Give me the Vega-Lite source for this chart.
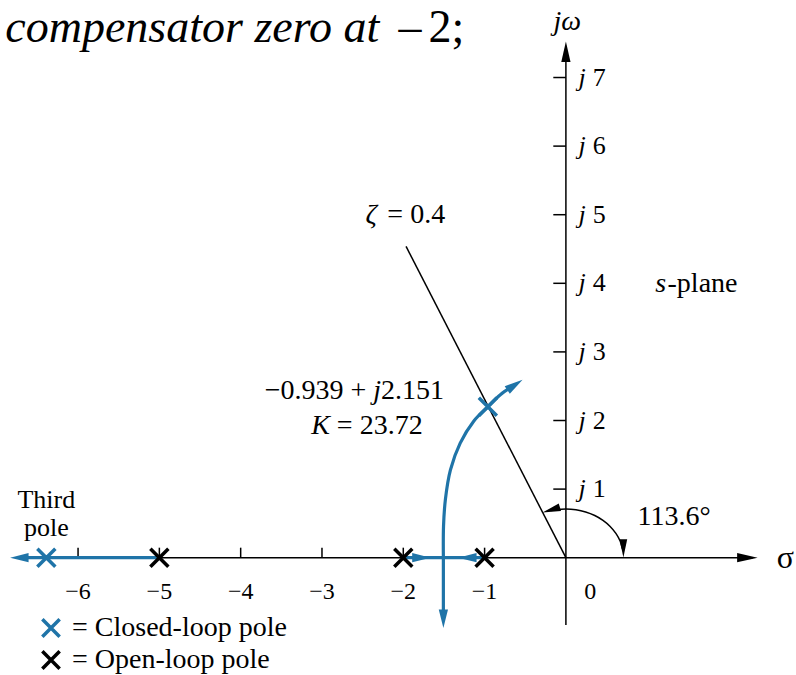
{
  "$schema": "https://vega.github.io/schema/vega-lite/v6.json",
  "width": 796,
  "height": 675,
  "autosize": {"type": "fit", "contains": "padding"},
  "padding": 0,
  "background": "white",
  "config": {"view": {"stroke": null}, "text": {"font": "'Liberation Serif', 'Times New Roman', 'DejaVu Serif', serif", "color": "black"}},
  "datasets": {
    "blackSegments": [
      {"x": -5, "y": 0, "x2": 2.3, "y2": 0},
      {"x": 0, "y": -0.98, "x2": 0, "y2": 7.3},
      {"x": 0, "y": 0, "x2": -1.966, "y2": 4.538},
      {"x": -6, "y": 0, "x2": -6, "y2": 0.146},
      {"x": -5, "y": 0, "x2": -5, "y2": 0.146},
      {"x": -4, "y": 0, "x2": -4, "y2": 0.146},
      {"x": -3, "y": 0, "x2": -3, "y2": 0.146},
      {"x": -2, "y": 0, "x2": -2, "y2": 0.146},
      {"x": -1, "y": 0, "x2": -1, "y2": 0.146},
      {"x": -0.155, "y": 1, "x2": 0, "y2": 1},
      {"x": -0.155, "y": 2, "x2": 0, "y2": 2},
      {"x": -0.155, "y": 3, "x2": 0, "y2": 3},
      {"x": -0.155, "y": 4, "x2": 0, "y2": 4},
      {"x": -0.155, "y": 5, "x2": 0, "y2": 5},
      {"x": -0.155, "y": 6, "x2": 0, "y2": 6},
      {"x": -0.155, "y": 7, "x2": 0, "y2": 7}
    ],
    "blueSegments": [
      {"x": -6.62, "y": 0, "x2": -5, "y2": 0},
      {"x": -2, "y": 0, "x2": -1, "y2": 0},
      {"x": -1.507, "y": 0, "x2": -1.507, "y2": -0.86}
    ],
    "branch": [
      {"i": 0, "x": -1.507, "y": 0},
      {"i": 1, "x": -1.505, "y": 0.46},
      {"i": 2, "x": -1.482, "y": 0.85},
      {"i": 3, "x": -1.42, "y": 1.28},
      {"i": 4, "x": -1.3, "y": 1.67},
      {"i": 5, "x": -1.134, "y": 1.99},
      {"i": 6, "x": -0.96, "y": 2.2},
      {"i": 7, "x": -0.806, "y": 2.376},
      {"i": 8, "x": -0.64, "y": 2.51}
    ],
    "arc": [
      {"i": 0, "x": 0.707, "y": 0.12},
      {"i": 1, "x": 0.699, "y": 0.123},
      {"i": 2, "x": 0.667, "y": 0.243},
      {"i": 3, "x": 0.615, "y": 0.355},
      {"i": 4, "x": 0.544, "y": 0.456},
      {"i": 5, "x": 0.456, "y": 0.544},
      {"i": 6, "x": 0.355, "y": 0.615},
      {"i": 7, "x": 0.243, "y": 0.667},
      {"i": 8, "x": 0.123, "y": 0.699},
      {"i": 9, "x": 0, "y": 0.71},
      {"i": 10, "x": -0.123, "y": 0.699},
      {"i": 11, "x": -0.18, "y": 0.687}
    ],
    "axisArrows": [
      {"x": 2.232, "y": 0, "heading": 0},
      {"x": 0, "y": 7.376, "heading": 270}
    ],
    "arcArrows": [
      {"x": -0.181, "y": 0.697, "heading": 163},
      {"x": 0.707, "y": 0.135, "heading": 90}
    ],
    "blueArrows": [
      {"x": -6.722, "y": 0, "heading": 180},
      {"x": -1.777, "y": 0, "heading": 0},
      {"x": -1.212, "y": 0, "heading": 180},
      {"x": -1.507, "y": -0.889, "heading": 90},
      {"x": -0.627, "y": 2.52, "heading": 326}
    ],
    "poles": [
      {"x": -5, "y": 0, "type": "Open-loop pole"},
      {"x": -2, "y": 0, "type": "Open-loop pole"},
      {"x": -1, "y": 0, "type": "Open-loop pole"},
      {"x": -6.39, "y": 0, "type": "Closed-loop pole"},
      {"x": -0.96, "y": 2.2, "type": "Closed-loop pole"}
    ],
    "texts": [
      {"part": "tick", "x": -6, "y": -0.5, "text": "−6"},
      {"part": "tick", "x": -5, "y": -0.5, "text": "−5"},
      {"part": "tick", "x": -4, "y": -0.5, "text": "−4"},
      {"part": "tick", "x": -3, "y": -0.5, "text": "−3"},
      {"part": "tick", "x": -2, "y": -0.5, "text": "−2"},
      {"part": "tick", "x": -1, "y": -0.5, "text": "−1"},
      {"part": "tick", "x": 0.3, "y": -0.5, "text": "0"},
      {"part": "jItalic", "x": 0.154, "y": 1, "text": "j"},
      {"part": "jItalic", "x": 0.154, "y": 2, "text": "j"},
      {"part": "jItalic", "x": 0.154, "y": 3, "text": "j"},
      {"part": "jItalic", "x": 0.154, "y": 4, "text": "j"},
      {"part": "jItalic", "x": 0.154, "y": 5, "text": "j"},
      {"part": "jItalic", "x": 0.154, "y": 6, "text": "j"},
      {"part": "jItalic", "x": 0.154, "y": 7, "text": "j"},
      {"part": "jDigit", "x": 0.33, "y": 1, "text": "1"},
      {"part": "jDigit", "x": 0.33, "y": 2, "text": "2"},
      {"part": "jDigit", "x": 0.33, "y": 3, "text": "3"},
      {"part": "jDigit", "x": 0.33, "y": 4, "text": "4"},
      {"part": "jDigit", "x": 0.33, "y": 5, "text": "5"},
      {"part": "jDigit", "x": 0.33, "y": 6, "text": "6"},
      {"part": "jDigit", "x": 0.33, "y": 7, "text": "7"},
      {"part": "noteRegular", "x": -3.705, "y": 2.434, "text": "−0.939 +"},
      {"part": "noteRegular", "x": -2.273, "y": 2.434, "text": "2.151"},
      {"part": "noteRegular", "x": -2.817, "y": 1.924, "text": "= 23.72"},
      {"part": "noteRegular", "x": -2.196, "y": 5.0, "text": "= 0.4"},
      {"part": "noteRegular", "x": 0.88, "y": 0.6, "text": "113.6°"},
      {"part": "noteRegular", "x": 1.25, "y": 3.99, "text": "-plane"},
      {"part": "noteItalic", "x": -2.369, "y": 2.434, "text": "j"},
      {"part": "noteItalic", "x": -3.133, "y": 1.924, "text": "K"},
      {"part": "noteItalic", "x": -2.466, "y": 5.0, "text": "ζ"},
      {"part": "noteItalic", "x": 1.1, "y": 3.99, "text": "s"},
      {"part": "noteItalic", "x": -0.154, "y": 7.81, "text": "jω"},
      {"part": "center", "x": -6.39, "y": 0.845, "text": "Third"},
      {"part": "center", "x": -6.39, "y": 0.437, "text": "pole"},
      {"part": "sigma", "x": 2.7, "y": -0.01, "text": "σ"},
      {"part": "titleItalic", "x": -6.895, "y": 7.522, "text": "compensator zero at"},
      {"part": "titleRegular", "x": -2.06, "y": 7.522, "text": "–"},
      {"part": "titleRegular", "x": -1.691, "y": 7.522, "text": "2;"}
    ]
  },
  "encoding": {
    "x": {"field": "x", "type": "quantitative", "scale": {"domain": [-6.96, 2.83], "nice": false, "zero": false}, "axis": null},
    "y": {"field": "y", "type": "quantitative", "scale": {"domain": [-1.71, 8.13], "nice": false, "zero": false}, "axis": null}
  },
  "layer": [
    {
      "data": {"name": "blackSegments"},
      "mark": {"type": "rule", "color": "black", "strokeWidth": 1.5},
      "encoding": {"x2": {"field": "x2"}, "y2": {"field": "y2"}}
    },
    {
      "data": {"name": "arc"},
      "mark": {"type": "line", "color": "black", "strokeWidth": 1.5, "interpolate": "catmull-rom"},
      "encoding": {"order": {"field": "i", "type": "quantitative"}}
    },
    {
      "data": {"name": "blueSegments"},
      "mark": {"type": "rule", "color": "#1f74a8", "strokeWidth": 3.2},
      "encoding": {"x2": {"field": "x2"}, "y2": {"field": "y2"}}
    },
    {
      "data": {"name": "branch"},
      "mark": {"type": "line", "color": "#1f74a8", "strokeWidth": 3.2, "interpolate": "catmull-rom"},
      "encoding": {"order": {"field": "i", "type": "quantitative"}}
    },
    {
      "data": {"name": "axisArrows"},
      "mark": {"type": "point", "shape": "M1,0L-1,-0.45L-1,0.45Z", "filled": true, "color": "black", "size": 420, "opacity": 1, "strokeWidth": 0},
      "encoding": {"angle": {"field": "heading", "type": "quantitative", "scale": {"domain": [0, 360], "range": [0, 360]}}}
    },
    {
      "data": {"name": "arcArrows"},
      "mark": {"type": "point", "shape": "M1,0L-1,-0.42L-1,0.42Z", "filled": true, "color": "black", "size": 330, "opacity": 1, "strokeWidth": 0},
      "encoding": {"angle": {"field": "heading", "type": "quantitative", "scale": {"domain": [0, 360], "range": [0, 360]}}}
    },
    {
      "data": {"name": "blueArrows"},
      "mark": {"type": "point", "shape": "M1,0L-1,-0.5L-1,0.5Z", "filled": true, "color": "#1f74a8", "size": 340, "opacity": 1, "strokeWidth": 0},
      "encoding": {"angle": {"field": "heading", "type": "quantitative", "scale": {"domain": [0, 360], "range": [0, 360]}}}
    },
    {
      "data": {"name": "poles"},
      "mark": {"type": "point", "shape": "M-1,-1L1,1M-1,1L1,-1", "filled": false, "size": 324, "strokeWidth": 3.5, "opacity": 1},
      "encoding": {
        "color": {
          "field": "type",
          "type": "nominal",
          "scale": {"domain": ["Closed-loop pole", "Open-loop pole"], "range": ["#1f74a8", "black"]},
          "legend": {
            "orient": "none",
            "legendX": 37,
            "legendY": 614,
            "title": null,
            "padding": 0,
            "labelExpr": "'= ' + datum.label",
            "labelFont": "'Liberation Serif', 'Times New Roman', 'DejaVu Serif', serif",
            "labelFontSize": 28,
            "labelLimit": 500,
            "labelColor": "black",
            "labelOffset": 7,
            "symbolType": "M-1,-1L1,1M-1,1L1,-1",
            "symbolSize": 300,
            "symbolStrokeWidth": 3.5,
            "symbolFillColor": "transparent",
            "rowPadding": 0
          }
        }
      }
    },
    {
      "data": {"name": "texts"},
      "transform": [{"filter": "datum.part === 'tick'"}],
      "mark": {"type": "text", "fontSize": 24, "align": "center", "baseline": "middle"},
      "encoding": {"text": {"field": "text"}}
    },
    {
      "data": {"name": "texts"},
      "transform": [{"filter": "datum.part === 'jItalic'"}],
      "mark": {"type": "text", "fontStyle": "italic", "fontSize": 26, "align": "left", "baseline": "middle"},
      "encoding": {"text": {"field": "text"}}
    },
    {
      "data": {"name": "texts"},
      "transform": [{"filter": "datum.part === 'jDigit'"}],
      "mark": {"type": "text", "fontSize": 26, "align": "left", "baseline": "middle"},
      "encoding": {"text": {"field": "text"}}
    },
    {
      "data": {"name": "texts"},
      "transform": [{"filter": "datum.part === 'noteRegular'"}],
      "mark": {"type": "text", "fontSize": 28, "align": "left", "baseline": "middle"},
      "encoding": {"text": {"field": "text"}}
    },
    {
      "data": {"name": "texts"},
      "transform": [{"filter": "datum.part === 'noteItalic'"}],
      "mark": {"type": "text", "fontStyle": "italic", "fontSize": 28, "align": "left", "baseline": "middle"},
      "encoding": {"text": {"field": "text"}}
    },
    {
      "data": {"name": "texts"},
      "transform": [{"filter": "datum.part === 'center'"}],
      "mark": {"type": "text", "fontSize": 26, "align": "center", "baseline": "middle"},
      "encoding": {"text": {"field": "text"}}
    },
    {
      "data": {"name": "texts"},
      "transform": [{"filter": "datum.part === 'sigma'"}],
      "mark": {"type": "text", "fontSize": 32, "align": "center", "baseline": "middle"},
      "encoding": {"text": {"field": "text"}}
    },
    {
      "data": {"name": "texts"},
      "transform": [{"filter": "datum.part === 'titleItalic'"}],
      "mark": {"type": "text", "fontStyle": "italic", "fontSize": 46, "align": "left", "baseline": "alphabetic"},
      "encoding": {"text": {"field": "text"}}
    },
    {
      "data": {"name": "texts"},
      "transform": [{"filter": "datum.part === 'titleRegular'"}],
      "mark": {"type": "text", "fontSize": 46, "align": "left", "baseline": "alphabetic"},
      "encoding": {"text": {"field": "text"}}
    }
  ]
}
